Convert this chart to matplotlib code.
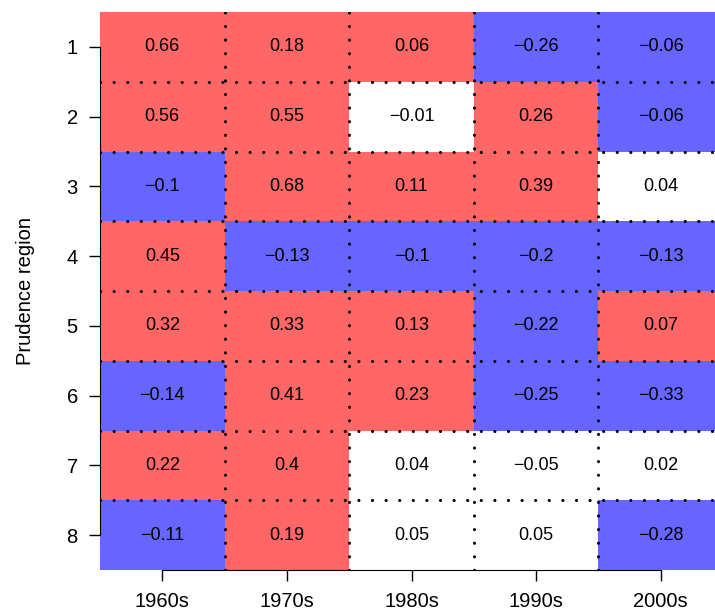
import numpy as np
import matplotlib.pyplot as plt
from matplotlib.colors import ListedColormap, BoundaryNorm

plt.rcParams['font.family'] = ['Liberation Sans', 'DejaVu Sans']

decades = ["1960s", "1970s", "1980s", "1990s", "2000s"]
regions = [1, 2, 3, 4, 5, 6, 7, 8]
r1 = [0.66, 0.18, 0.06, -0.26, -0.06]
r2 = [0.56, 0.55, -0.01, 0.26, -0.06]
r3 = [-0.1, 0.68, 0.11, 0.39, 0.04]
r4 = [0.45, -0.13, -0.1, -0.2, -0.13]
r5 = [0.32, 0.33, 0.13, -0.22, 0.07]
r6 = [-0.14, 0.41, 0.23, -0.25, -0.33]
r7 = [0.22, 0.4, 0.04, -0.05, 0.02]
r8 = [-0.11, 0.19, 0.05, 0.05, -0.28]

vals = np.array([r1, r2, r3, r4, r5, r6, r7, r8])

cmap = ListedColormap(["#6666FF", "#FFFFFF", "#FF6666"])
norm = BoundaryNorm([-1, -0.055, 0.055, 1], cmap.N)

fig = plt.figure(figsize=(7.15, 6.14), dpi=100)
ax = fig.add_axes([100 / 715, 44 / 614, 623 / 715, 558 / 614])

nx = len(decades)
ny = len(regions)
ax.pcolormesh(np.arange(nx + 1) - 0.5, np.arange(ny + 1) + 0.5, vals,
              cmap=cmap, norm=norm)

for i in range(ny):
    for j in range(nx):
        txt = f"{vals[i, j]:g}".replace("-", "\u2212")
        ax.text(j, regions[i], txt, ha='center', va='center', fontsize=13)

# dotted separators
dot = dict(color='black', lw=2.2, linestyle=(0, (0.05, 4.4)),
           dash_capstyle='round')
for y in np.arange(1.5, ny, 1):
    ax.axhline(y, **dot)
for x in np.arange(0.5, nx - 1, 1):
    ax.axvline(x, **dot)

ax.set_xlim(-0.5, nx - 0.5)
ax.set_ylim(ny + 0.5, 0.5)

ax.set_xticks(range(nx))
ax.set_xticklabels(decades)
ax.set_yticks(regions)
ax.set_yticklabels([str(r) for r in regions])
ax.tick_params(length=8, width=1, labelsize=14.5, pad=8)

ax.spines['top'].set_visible(False)
ax.spines['right'].set_visible(False)
ax.spines['bottom'].set_bounds(0, nx - 1)
ax.spines['left'].set_bounds(1, ny)
ax.set_ylabel("Prudence region", fontsize=14.5, labelpad=23)

fig.savefig("out.png", dpi=100)
